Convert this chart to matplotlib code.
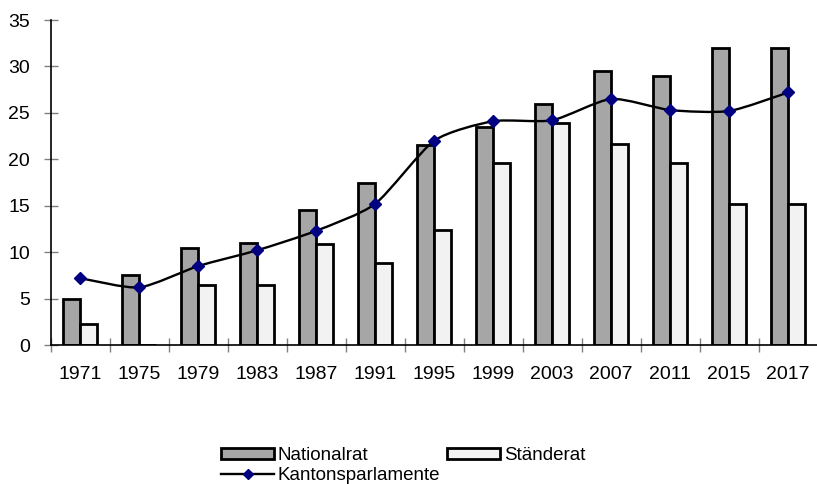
import matplotlib
matplotlib.use("Agg")
import matplotlib.pyplot as plt
from matplotlib.path import Path
from matplotlib.patches import PathPatch, Patch
from matplotlib.lines import Line2D
import numpy as np

years = ["1971", "1975", "1979", "1983", "1987", "1991", "1995",
         "1999", "2003", "2007", "2011", "2015", "2017"]
nationalrat = [5, 7.5, 10.5, 11, 14.5, 17.5, 21.5, 23.5, 26, 29.5, 29, 32, 32]
staenderat = [2.3, 0, 6.5, 6.5, 10.9, 8.8, 12.4, 19.6, 23.9, 21.6, 19.6, 15.2, 15.2]
kantone = [7.2, 6.2, 8.5, 10.2, 12.3, 15.2, 22.0, 24.1, 24.2, 26.5, 25.3, 25.2, 27.2]

plt.rcParams["font.family"] = ["Liberation Sans", "DejaVu Sans"]
FS = 14
LFS = 13.5

fig = plt.figure(figsize=(8.17, 4.84), dpi=100)
ax = fig.add_axes([50.7 / 817, 1 - 345 / 484, 767 / 817, 325 / 484])

x = np.arange(len(years))
w = 0.293
ax.bar(x - w / 2, nationalrat, width=w, color="#A6A6A6", edgecolor="black", linewidth=2.0, zorder=2)
ax.bar(x + w / 2, staenderat, width=w, color="#F2F2F2", edgecolor="black", linewidth=2.0, zorder=2)

# smoothed line (Bezier through the data points)
pts = np.column_stack([x, kantone]).astype(float)
verts = [tuple(pts[0])]
codes = [Path.MOVETO]
n = len(pts)
k = 1.0 / 9.0
for i in range(n - 1):
    p0 = pts[max(i - 1, 0)]
    p1 = pts[i]
    p2 = pts[i + 1]
    p3 = pts[min(i + 2, n - 1)]
    c1 = p1 + (p2 - p0) * k
    c2 = p2 - (p3 - p1) * k
    verts += [tuple(c1), tuple(c2), tuple(p2)]
    codes += [Path.CURVE4] * 3
ax.add_patch(PathPatch(Path(verts, codes), facecolor="none", edgecolor="black", linewidth=1.7, zorder=3))
ax.plot(x, kantone, linestyle="none", marker="D", markersize=6, color="#000080", zorder=4)

ax.set_xlim(-0.5, len(years) - 0.5)
ax.set_ylim(0, 35)
ax.set_yticks(range(0, 36, 5))
ax.set_xticks(x)
ax.set_xticklabels(years)
ax.set_xticks(np.arange(-0.5, len(years), 1), minor=True)
ax.tick_params(axis="x", which="major", length=0, pad=15, labelsize=FS)
ax.tick_params(axis="x", which="minor", length=10, direction="inout", color="#808080", width=1)
ax.tick_params(axis="y", length=10, direction="inout", color="#808080", width=1, labelsize=FS, pad=10)
for s in ["top", "right"]:
    ax.spines[s].set_visible(False)
ax.spines["left"].set_linewidth(1.2)
ax.spines["bottom"].set_linewidth(1.2)

h_n = Patch(facecolor="#A6A6A6", edgecolor="black", linewidth=2.0)
h_s = Patch(facecolor="#F2F2F2", edgecolor="black", linewidth=2.0)
h_k = Line2D([], [], color="black", linewidth=1.7, marker="D", markersize=5,
             markerfacecolor="#000080", markeredgecolor="#000080")
fig.legend([h_n, h_k, h_s], ["Nationalrat", "Kantonsparlamente", "Ständerat"],
           ncol=2, loc="upper left", bbox_to_anchor=(221 / 817, 1 - 447 / 484), bbox_transform=fig.transFigure,
           frameon=False, fontsize=LFS, handlelength=2.83, handleheight=0.5,
           handletextpad=0.2, columnspacing=0.35, labelspacing=0.15, borderpad=0, borderaxespad=0)

fig.savefig("out.png", dpi=100)
